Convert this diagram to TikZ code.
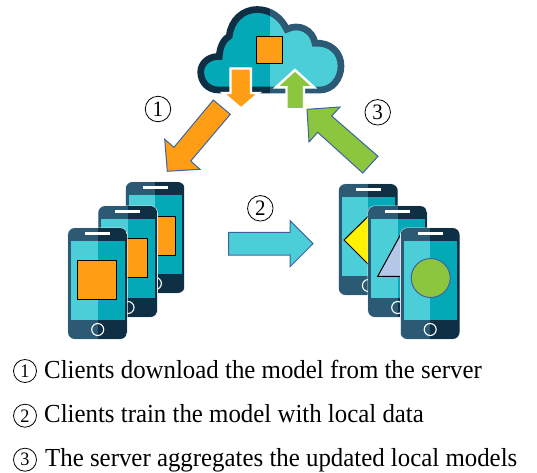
\documentclass[tikz,border=0pt]{standalone}
\usepackage{fontspec}
\setmainfont[FakeStretch=0.956]{Liberation Serif}
\definecolor{darkL}{HTML}{2C5A75}
\definecolor{darkR}{HTML}{0F3044}
\definecolor{scrL}{HTML}{4BCED7}
\definecolor{scrR}{HTML}{03A9B7}
\definecolor{orangeF}{HTML}{FF9E15}
\definecolor{greenF}{HTML}{8CC63F}
\definecolor{edgeB}{HTML}{3F63A0}
\definecolor{triF}{HTML}{B4C7E7}
\tikzset{
  blockarrow/.style={draw=edgeB,line width=1pt,line join=miter},
  smallarrow/.style={draw=white,line width=2.4pt,line join=miter},
  shapeK/.style={draw=black,line width=1pt},
  numcircle/.style={circle,draw=black,line width=0.8pt,minimum size=25.5pt,inner sep=0pt,font=\fontsize{22}{22}\selectfont},
  legcircle/.style={circle,draw=black,line width=0.8pt,minimum size=23pt,inner sep=0pt,font=\fontsize{19}{19}\selectfont},
  legend/.style={anchor=base west,inner sep=0pt,font=\fontsize{26}{28}\selectfont},
}
\newcommand{\cloudpath}{%
  (218.5,90) .. controls (208,90) and (200.7,82) .. (200.7,72)
  .. controls (200.7,63) and (209,56) .. (219.3,56.5)
  .. controls (219.5,47) and (224,39) .. (229.3,36)
  .. controls (231,20) and (243,9.5) .. (257,9.5)
  .. controls (270,9.5) and (281,17) .. (286.7,29.3)
  .. controls (299,23) and (313,30) .. (315,43.3)
  .. controls (330,42) and (341,52) .. (341,66)
  .. controls (341,79) and (332,90) .. (320,90) -- cycle}
\newcommand{\phonebody}[2]{%
  \begin{scope}[shift={(#1,#2)}]
    \draw[white!70!darkL!50,line width=1pt,rounded corners=7pt] (0,0) rectangle (59,111);
    \begin{scope}
      \clip[rounded corners=7pt] (0,0) rectangle (59,111);
      \fill[darkL] (0,0) rectangle (29.7,111);
      \fill[darkR] (29.7,0) rectangle (59,111);
    \end{scope}
    \fill[scrL] (3,12.5) rectangle (29.7,91.5);
    \fill[scrR] (29.7,12.5) rectangle (56.5,91.5);
    \fill[white] (17,3.5) rectangle (42,7);
    \draw[white,line width=1.1pt] (29.7,101.5) circle (6);
  \end{scope}
}
\begin{document}
\begin{tikzpicture}[x=1pt,y=-1pt]
\useasboundingbox (0,0) rectangle (537,472);
% cloud
\begin{scope}
  \clip (190,0) rectangle (270,100);
  \draw[draw=darkR,fill=scrR,line width=6.7pt] \cloudpath;
\end{scope}
\begin{scope}
  \clip (270,0) rectangle (350,100);
  \draw[draw=darkL,fill=scrL,line width=6.7pt] \cloudpath;
\end{scope}
\draw[shapeK,fill=orangeF] (256,36.7) rectangle (282.3,63.3);
% small arrows
\draw[smallarrow,fill=orangeF] (230.5,68.5) -- (251,68.5) -- (251,93) -- (259,93) -- (241,108.5) -- (223,93) -- (230.5,93) -- cycle;
\draw[smallarrow,fill=greenF] (286.5,109.3) -- (304,109.3) -- (304,87.3) -- (314,87.3) -- (295,70) -- (276,87.3) -- (286.5,87.3) -- cycle;
% big arrows
\draw[blockarrow,fill=orangeF] (213.3,100) -- (230.3,114.3) -- (190.7,161) -- (200,169.3) -- (167.3,171.3) -- (164.7,139.3) -- (174,147.3) -- cycle;
\draw[blockarrow,fill=greenF] (378,156.3) -- (362.7,173) -- (317.7,132.3) -- (309,142) -- (307,109.3) -- (340,107) -- (331.7,116) -- cycle;
\draw[blockarrow,fill=scrL] (228.7,232.3) -- (290,232.3) -- (290,220.7) -- (313,243.7) -- (290,266.7) -- (290,255) -- (228.7,255) -- cycle;
% left phones
\phonebody{125.7}{182}
\draw[shapeK,fill=orangeF] (136,216) rectangle (175.3,255);
\phonebody{98.3}{206}
\draw[shapeK,fill=orangeF] (108,238.7) rectangle (147.3,277.3);
\phonebody{68}{228}
\draw[shapeK,fill=orangeF] (77.7,260.7) rectangle (116.7,299.3);
% right phones
\phonebody{338.7}{184}
\draw[shapeK,fill=yellow] (368,216.5) -- (392,240) -- (368,264) -- (344,240) -- cycle;
\phonebody{368}{206}
\draw[shapeK,fill=triF] (402,232) -- (426,276.3) -- (377.7,276.3) -- cycle;
\phonebody{400.5}{228}
\draw[draw=edgeB,line width=1pt,fill=greenF] (430.7,278) circle (19.5);
% numbers
\node[numcircle] (n1) at (158,109) {1};
\node[numcircle] (n2) at (260.3,208.3) {2};
\node[numcircle] (n3) at (377.7,112.3) {3};
% legend
\node[legcircle] (l1) at (25,371) {1};
\node[legcircle] (l2) at (25,415.7) {2};
\node[legcircle] (l3) at (25,459.7) {3};
\node[legend] (t1) at (44,378) {Clients download the model from the server};
\node[legend] (t2) at (44,422.5) {Clients train the model with local data};
\node[legend] (t3) at (45,466) {The server aggregates the updated local models};
\end{tikzpicture}
\end{document}
